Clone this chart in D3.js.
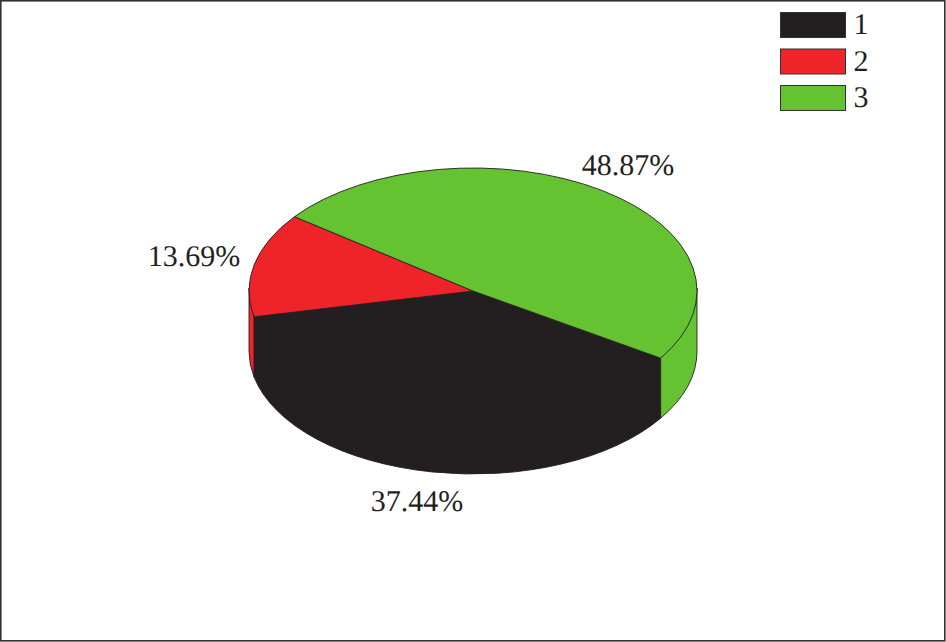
<!DOCTYPE html>
<html>
<head>
<meta charset="utf-8">
<title>Pie</title>
<script src="https://cdn.jsdelivr.net/npm/d3@7"></script>
<style>
html, body { margin: 0; padding: 0; background: #fff; }
svg { display: block; }
text { font-family: "Liberation Serif", serif; font-size: 30px; fill: #231f20; text-rendering: geometricPrecision; }
</style>
</head>
<body>
<div id="chart"></div>
<script>
const categories = ["1", "2", "3"];
const values = [37.44, 13.69, 48.87];
const valueLabels = ["37.44%", "13.69%", "48.87%"];
const colors = ["#231f20", "#ee2429", "#65c332"];

const width = 946, height = 642;
const cx = 473, cy = 291, rx = 224, ry = 123, depth = 60;
const startDeg = 123.1;
const tuck = 3; // wall runs this far under the top so no seam shows

const svg = d3.select("#chart").append("svg")
    .attr("width", width)
    .attr("height", height)
    .attr("viewBox", "0 0 " + width + " " + height);

svg.append("rect")
    .attr("x", 0.8).attr("y", 0.8)
    .attr("width", width - 2).attr("height", height - 2)
    .attr("fill", "#fff")
    .attr("stroke", "#333")
    .attr("stroke-width", 1.6);

/* the pie goes clockwise from the black slice, which starts on the lower right */
const pie = d3.pie().sort(null)
    .startAngle(startDeg * Math.PI / 180)
    .endAngle((startDeg + 360) * Math.PI / 180);
const slices = pie(values);

const px = a => cx + rx * Math.sin(a);
const py = a => cy - ry * Math.cos(a);

/* side wall: only the part of the rim on the front half, angle PI/2 .. 3PI/2 */
function sidePath(d) {
    const a0 = Math.max(d.startAngle, Math.PI / 2);
    const a1 = Math.min(d.endAngle, 3 * Math.PI / 2);
    const parts = [];
    if (a1 > a0) parts.push([a0, a1]);
    // green wraps past a full turn, so check its other side too
    const b0 = Math.max(d.startAngle - 2 * Math.PI, Math.PI / 2);
    const b1 = Math.min(d.endAngle - 2 * Math.PI, 3 * Math.PI / 2);
    if (b1 > b0) parts.push([b0, b1]);
    return parts.map(([s, e]) =>
        "M" + px(s) + "," + (py(s) - tuck) +
        "A" + rx + "," + ry + " 0 0 1 " + px(e) + "," + (py(e) - tuck) +
        "L" + px(e) + "," + (py(e) + depth) +
        "A" + rx + "," + ry + " 0 0 0 " + px(s) + "," + (py(s) + depth) + "Z"
    ).join("");
}

function topPath(d) {
    const large = d.endAngle - d.startAngle > Math.PI ? 1 : 0;
    return "M" + cx + "," + cy +
        "L" + px(d.startAngle) + "," + py(d.startAngle) +
        "A" + rx + "," + ry + " 0 " + large + " 1 " + px(d.endAngle) + "," + py(d.endAngle) + "Z";
}

svg.append("g").selectAll("path")
    .data(slices)
    .enter()
    .append("path")
    .attr("d", sidePath)
    .attr("fill", (d, i) => colors[i])
    .attr("stroke", "#231f20")
    .attr("stroke-width", 0.9)
    .attr("stroke-linejoin", "round");

svg.append("g").selectAll("path")
    .data(slices)
    .enter()
    .append("path")
    .attr("d", topPath)
    .attr("fill", (d, i) => colors[i])
    .attr("stroke", "#231f20")
    .attr("stroke-width", 0.9)
    .attr("stroke-linejoin", "round");

const labelPos = [[417, 511], [194, 266], [628, 175]];
svg.append("g").selectAll("text")
    .data(valueLabels)
    .enter()
    .append("text")
    .attr("x", (d, i) => labelPos[i][0])
    .attr("y", (d, i) => labelPos[i][1])
    .attr("text-anchor", "middle")
    .text(d => d);

/* legend */
const legendY = d3.scalePoint().domain(categories).range([12, 85]);
const legend = svg.append("g");
legend.selectAll("rect")
    .data(categories)
    .enter()
    .append("rect")
    .attr("x", 780.5)
    .attr("y", d => legendY(d) + 0.5)
    .attr("width", 65)
    .attr("height", 25)
    .attr("fill", (d, i) => colors[i])
    .attr("stroke", "#333")
    .attr("stroke-width", 1);
legend.selectAll("text")
    .data(categories)
    .enter()
    .append("text")
    .attr("x", 861)
    .attr("y", d => legendY(d) + 22)
    .attr("text-anchor", "middle")
    .text(d => d);
</script>
</body>
</html>
